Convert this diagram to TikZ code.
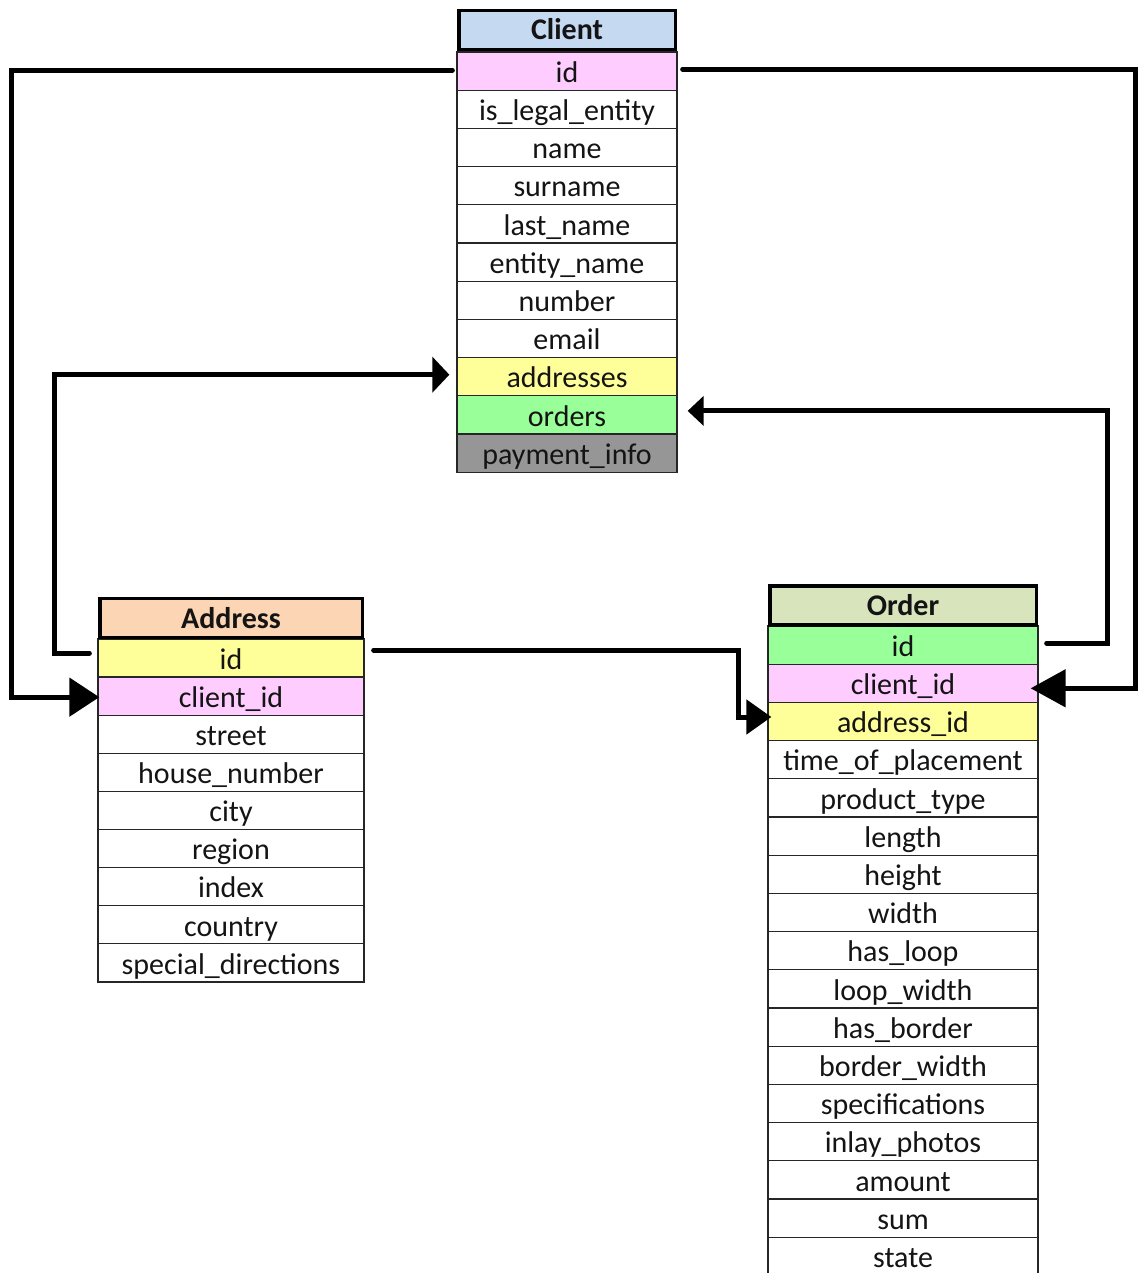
\documentclass[tikz,border=0pt]{standalone}
\usepackage{fontspec}
\setmainfont{Carlito}
\usetikzlibrary{arrows.meta}
\definecolor{pinkc}{HTML}{FFCCFF}
\definecolor{yelc}{HTML}{FFFF99}
\definecolor{grnc}{HTML}{99FF99}
\definecolor{grayc}{HTML}{969696}
\definecolor{bluec}{HTML}{C5D9F1}
\definecolor{peachc}{HTML}{FCD5B4}
\definecolor{olivec}{HTML}{D8E4BC}
\begin{document}
\begin{tikzpicture}[x=1pt,y=-1pt,
  row/.style={draw=black!85, line width=1.3pt, inner sep=0pt, minimum height=38.2pt,
    text height=22.5pt, text depth=0pt, font=\fontsize{30}{30}\selectfont, text=black!92},
  hdr/.style={draw=black, line width=3.5pt, inner sep=0pt, minimum height=39pt,
    text height=20pt, text depth=0pt, font=\fontsize{30}{30}\selectfont\bfseries, text=black!92},
  conn/.style={line width=5pt, line cap=round, line join=miter}]
\useasboundingbox (0,0) rectangle (1138,1273);

% Client table
\foreach [count=\i] \t/\c in {id/pinkc, is\_legal\_entity/white, name/white, surname/white,
  last\_name/white, entity\_name/white, number/white, email/white, addresses/yelc,
  orders/grnc, payment\_info/grayc}
  \node[row, fill=\c, minimum width=220pt] (c\i) at (567, {52+38.2*(\i-0.5)}) {\t};
\node[hdr, fill=bluec, minimum width=216.5pt] (chead) at (567,30) {Client};

% Address table
\foreach [count=\i] \t/\c in {id/yelc, client\_id/pinkc, street/white, house\_number/white,
  city/white, region/white, index/white, country/white, special\_directions/white}
  \node[row, fill=\c, minimum width=266pt] (a\i) at (231, {639+38.1*(\i-0.5)}) {\t};
\node[hdr, fill=peachc, minimum width=262.5pt] (ahead) at (231,618) {Address};

% Order table
\foreach [count=\i] \t/\c in {id/grnc, client\_id/pinkc, address\_id/yelc,
  time\_of\_placement/white, product\_type/white, length/white, height/white, width/white,
  has\_loop/white, loop\_width/white, has\_border/white, border\_width/white,
  specifications/white, inlay\_photos/white, amount/white, sum/white, state/white}
  \node[row, fill=\c, minimum width=270pt] (o\i) at (903, {626+38.2*(\i-0.5)}) {\t};
\node[hdr, fill=olivec, minimum width=266.5pt] (ohead) at (903,605.5) {Order};

% Connectors
\draw[conn, -{Triangle[length=30pt,width=38pt]}]
  ([xshift=-4pt,yshift=1pt]c1.west) -- ++(-441,0) |- ([xshift=2pt,yshift=-1pt]a2.west);
\draw[conn, -{Triangle[length=17pt,width=35pt]}]
  ([xshift=-8pt,yshift=5pt]a1.west) -- ++(-35,0) |- ([xshift=-7pt,yshift=2pt]c9.west);
\draw[conn, -{Triangle[length=16pt,width=29pt]}]
  ([xshift=8pt,yshift=2pt]o1.east) -- ++(61,0) |- ([xshift=10pt,yshift=4pt]c10.east);
\draw[conn, -{Triangle[length=35pt,width=37pt]}]
  ([xshift=5pt,yshift=2pt]c1.east) -- ++(453,0) |- ([xshift=-8pt,yshift=-5pt]o2.east);
\draw[conn, -{Triangle[length=25pt,width=34pt]}]
  ([xshift=9pt,yshift=8pt]a1.east) -- ++(365,0) |- ([xshift=4pt,yshift=4.5pt]o3.west);
\end{tikzpicture}
\end{document}
